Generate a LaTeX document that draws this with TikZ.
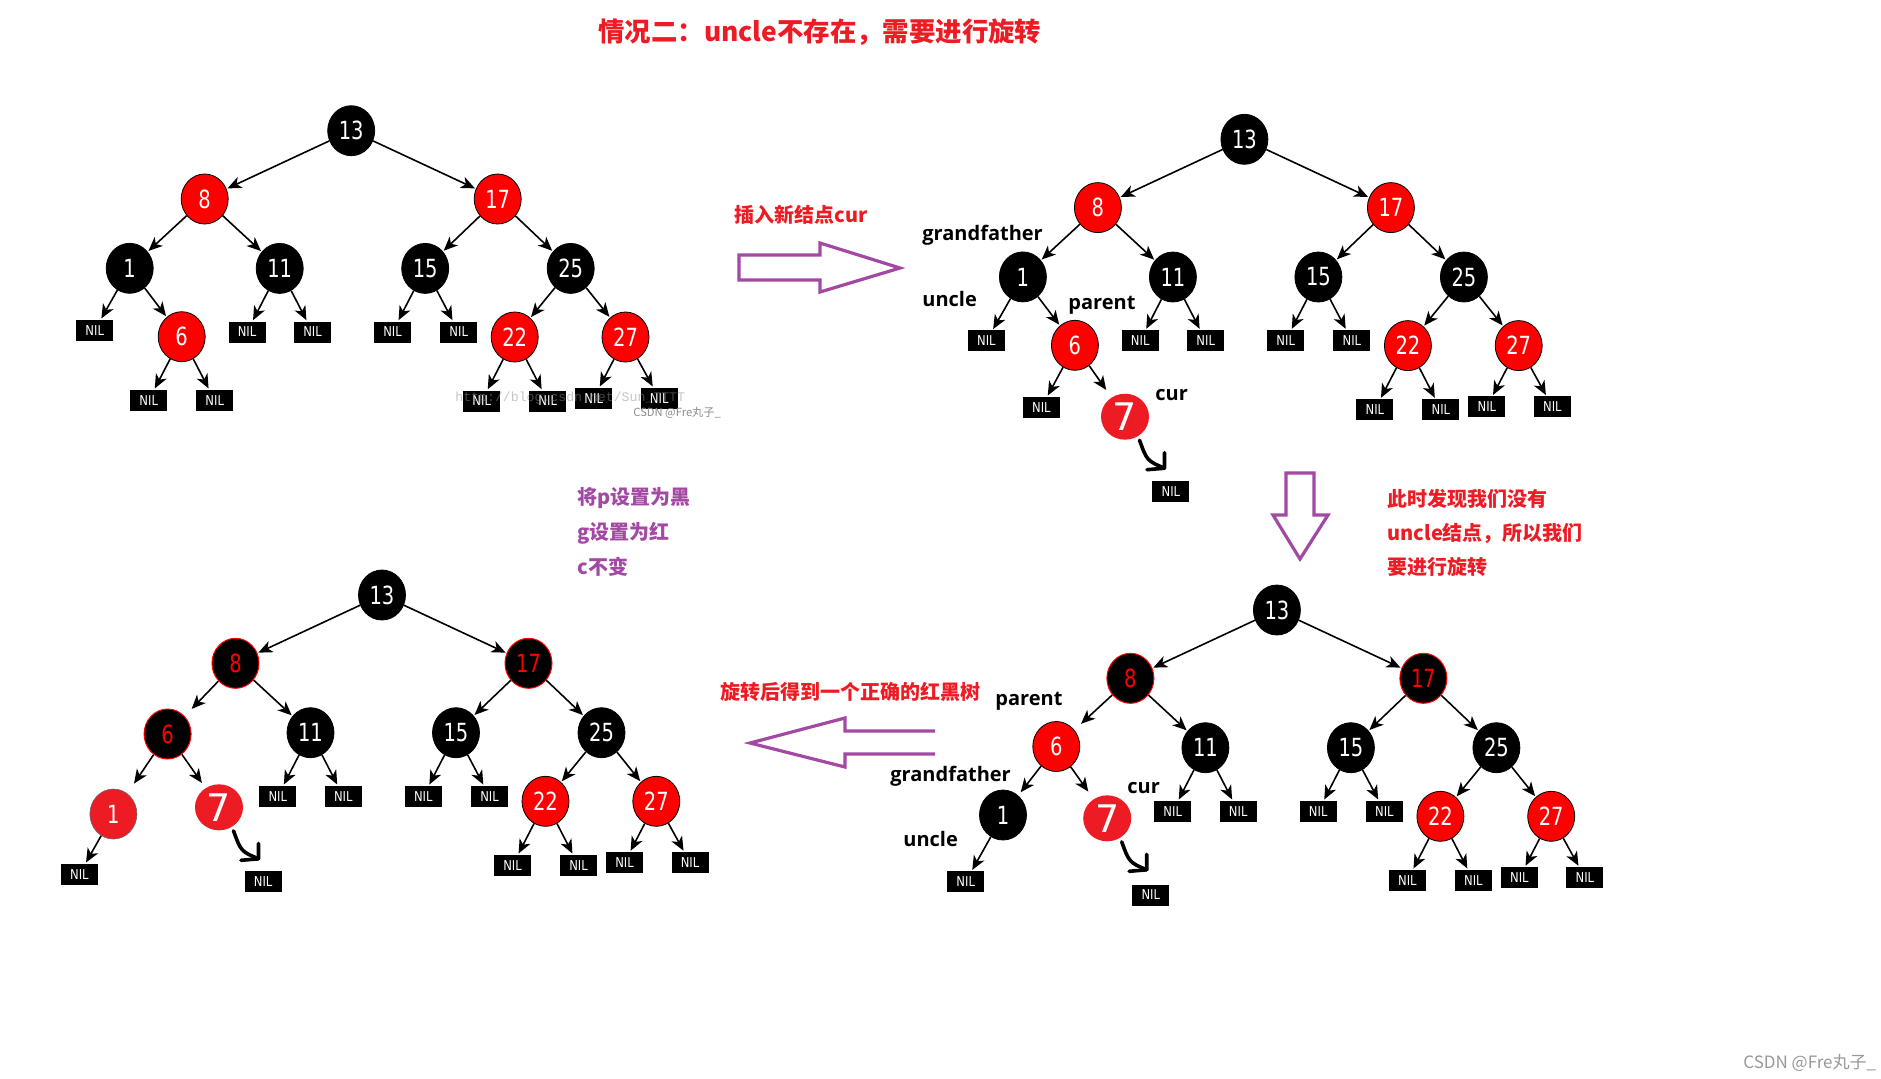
\documentclass[tikz,border=0pt]{standalone}
\usepackage{fontspec}
\usetikzlibrary{shapes.geometric,arrows.meta}
\newfontfamily\cjk{Noto Sans CJK SC}
\newfontfamily\lab{Open Sans}
\newfontfamily\numf{DejaVu Sans}[FakeStretch=0.78]
\newfontfamily\nilf{DejaVu Sans}[FakeStretch=0.85]
\newfontfamily\sevf{DejaVu Sans}
\newfontfamily\wmono{Liberation Mono}
\definecolor{pred}{RGB}{255,0,0}
\definecolor{hred}{RGB}{237,28,36}
\definecolor{tred}{RGB}{237,28,36}
\definecolor{purp}{RGB}{163,73,164}
\tikzset{
  bn/.style={ellipse, fill=black, draw=black, text=white, minimum width=23.5pt, minimum height=25pt, inner sep=0pt, font=\numf\fontsize{12.5}{12.5}\selectfont},
  rn/.style={bn, fill=pred, draw=black, line width=0.4pt},
  bnr/.style={bn, draw=pred, line width=0.5pt, text=pred},
  rnh/.style={bn, fill=hred, draw=black!60, line width=0.3pt},
  hn/.style={ellipse, fill=hred, draw=none, minimum width=24pt, minimum height=23pt, inner sep=0pt, text=white, font=\sevf\fontsize{19}{19}\selectfont},
  nil/.style={rectangle, fill=black, text=white, minimum width=18.5pt, minimum height=10.5pt, inner sep=0pt, font=\nilf\fontsize{6.8}{6.8}\selectfont},
  ed/.style={line width=0.8pt, -{Stealth[length=7pt,width=6pt,inset=2pt]}, shorten >=0.5pt},
  edx/.style={ed, shorten >=4.5pt},
  hand/.style={line width=1.8pt, line cap=round, line join=round},
  parr/.style={draw=purp, line width=1.6pt},
  lbl/.style={anchor=base west, inner sep=0pt, font=\lab\bfseries\fontsize{10}{10}\selectfont},
  ctxt/.style={anchor=west, inner sep=0pt, font=\cjk\bfseries\fontsize{10}{10}\selectfont},
}
\newcommand{\rbright}[1]{%
  \node[bn] (r) at (0,0) {13};
  \node[#1] (n8) at (-146.5,68.3) {8};
  \node[#1] (n17) at (146.5,68.3) {17};
  \node[bn] (n11) at (-71.5,137.7) {11};
  \node[bn] (n15) at (74,137.7) {15};
  \node[bn] (n25) at (219.5,137.7) {25};
  \node[rn] (n22) at (163.5,206.3) {22};
  \node[rn] (n27) at (274.3,206.3) {27};
  \node[nil] (a11) at (-104.2,201.3) {NIL};
  \node[nil] (b11) at (-38.7,201.3) {NIL};
  \node[nil] (a15) at (41.3,201.3) {NIL};
  \node[nil] (b15) at (107.5,201.3) {NIL};
  \node[nil] (a22) at (130.5,270.3) {NIL};
  \node[nil] (b22) at (196.5,270.3) {NIL};
  \node[nil] (a27) at (242.5,267.5) {NIL};
  \node[nil] (b27) at (308,267.5) {NIL};
  \draw[ed] (r) -- (n8);
  \draw[ed] (r) -- (n17);
  \draw[ed] (n8) -- (n11);
  \draw[ed] (n17) -- (n15);
  \draw[ed] (n17) -- (n25);
  \draw[ed] (n11) -- (a11);
  \draw[ed] (n11) -- (b11);
  \draw[ed] (n15) -- (a15);
  \draw[ed] (n15) -- (b15);
  \draw[ed] (n25) -- (n22);
  \draw[ed] (n25) -- (n27);
  \draw[ed] (n22) -- (a22);
  \draw[ed] (n22) -- (b22);
  \draw[ed] (n27) -- (a27);
  \draw[ed] (n27) -- (b27);
}
\newcommand{\handarrow}[2]{%
  \begin{scope}[shift={(#1,#2)}]
    \coordinate (hs) at (14.5,23.5);
    \coordinate (hc) at (39.5,51.5);
    \draw[hand] (hs) .. controls (22,44) .. (hc);
    \draw[hand] (39.5,36) -- (hc) -- (22,53);
  \end{scope}}
\begin{document}
\begin{tikzpicture}[x=0.5pt,y=-0.5pt]
\fill[white] (0,0) rectangle (1881,1078);
\useasboundingbox (0,0) rectangle (1881,1078);

% title
\node[ctxt, text=tred, font=\cjk\bfseries\fontsize{13.2}{13.2}\selectfont] (title) at (598,32) {情况二：uncle不存在，需要进行旋转};

% ---------- tree 1 (top left)
\begin{scope}[shift={(351.2,130.7)}, name prefix=A-]
  \rbright{rn}
  \node[bn] (n1) at (-221.5,137.6) {1};
  \node[nil] (nil1) at (-256.5,199.5) {NIL};
  \node[rn] (n6) at (-169.5,206) {6};
  \node[nil] (a6) at (-202.5,269.5) {NIL};
  \node[nil] (b6) at (-136.5,269.5) {NIL};
  \draw[ed] (n8) -- (n1);
  \draw[ed] (n1) -- (nil1);
  \draw[ed] (n1) -- (n6);
  \draw[ed] (n6) -- (a6);
  \draw[ed] (n6) -- (b6);
\end{scope}
\node[anchor=west, inner sep=0pt, text=black!45, opacity=0.5, font=\wmono\fontsize{6.6}{6.6}\selectfont] (wm1) at (455,398) {http://blog.csdn.net/Sun\_TTTT};
\node[anchor=west, inner sep=0pt, text=black!45, font=\cjk\fontsize{5.6}{5.6}\selectfont] (wm2) at (633,413) {CSDN @Fre丸子\_};

% ---------- tree 2 (top right)
\begin{scope}[shift={(1244.4,139.3)}, name prefix=B-]
  \rbright{rn}
  \node[bn] (n1) at (-221.5,137.6) {1};
  \node[nil] (nil1) at (-258,201.5) {NIL};
  \node[rn] (n6) at (-169.5,206) {6};
  \node[nil] (a6) at (-203,268) {NIL};
  \node[hn] (n7) at (-119.4,277.4) {7};
  \node[nil] (nil7) at (-73.5,352.4) {NIL};
  \draw[ed] (n8) -- (n1);
  \draw[ed] (n1) -- (nil1);
  \draw[ed] (n1) -- (n6);
  \draw[ed] (n6) -- (a6);
  \draw[edx] (n6) -- (n7);
  \handarrow{-119.4}{277.4}
\end{scope}
\node[lbl] (l1) at (922,240) {grandfather};
\node[lbl] (l2) at (922,306.5) {uncle};
\node[lbl] (l3) at (1068,309) {parent};
\node[lbl] (l4) at (1155,400) {cur};

% ---------- tree 3 (bottom right)
\begin{scope}[shift={(1276.9,610)}, name prefix=C-]
  \rbright{bnr}
  \node[rn] (n6) at (-220.6,136.5) {6};
  \node[bn] (n1) at (-273.9,205) {1};
  \node[hn] (n7) at (-169.7,208.3) {7};
  \node[nil] (nil1) at (-311.2,271.7) {NIL};
  \node[nil] (nil7) at (-126.1,285) {NIL};
  \draw[edx] (n8) -- (n6);
  \draw[ed, shorten >=2pt] (n6) -- (n1);
  \draw[edx] (n6) -- (n7);
  \draw[ed] (n1) -- (nil1);
  \handarrow{-169.7}{208.3}
\end{scope}
\node[lbl] (m1) at (995,705) {parent};
\node[lbl] (m2) at (890,781.5) {grandfather};
\node[lbl] (m3) at (903,846) {uncle};
\node[lbl] (m4) at (1127,793) {cur};

% ---------- tree 4 (bottom left)
\begin{scope}[shift={(382,595)}, name prefix=D-]
  \rbright{bnr}
  \node[bnr] (n6) at (-214.4,139) {6};
  \node[rnh] (n1) at (-268.6,219) {1};
  \node[hn] (n7) at (-163,212.3) {7};
  \node[nil] (nil1) at (-302.6,279.3) {NIL};
  \node[nil] (nil7) at (-118.9,286.7) {NIL};
  \draw[ed, shorten >=5pt] (n8) -- (n6);
  \draw[ed, shorten >=6pt] (n6) -- (n1);
  \draw[ed, shorten >=3pt] (n6) -- (n7);
  \draw[ed] (n1) -- (nil1);
  \handarrow{-163}{212.3}
\end{scope}

% ---------- notes
\node[ctxt, text=tred] (t1) at (734,215) {插入新结点cur};
\node[ctxt, text=purp] (p1) at (577,498) {将p设置为黑};
\node[ctxt, text=purp] (p2) at (577,533) {g设置为红};
\node[ctxt, text=purp] (p3) at (577,567) {c不变};
\node[ctxt, text=tred] (q1) at (1387,499) {此时发现我们没有};
\node[ctxt, text=tred] (q2) at (1387,533) {uncle结点，所以我们};
\node[ctxt, text=tred] (q3) at (1387,567) {要进行旋转};
\node[ctxt, text=tred] (t2) at (720,692) {旋转后得到一个正确的红黑树};

% ---------- hollow arrows
\draw[parr, line join=miter] (739,255) -- (820,255) -- (820,243) -- (900,268) -- (820,292) -- (820,280) -- (739,280) -- cycle;
\draw[parr, line join=miter] (1286,473) -- (1314,473) -- (1314,515) -- (1328,515) -- (1300,559) -- (1273,515) -- (1286,515) -- cycle;
\draw[parr, line join=miter] (935,731) -- (845,731) -- (845,718) -- (750,743) -- (845,767) -- (845,754) -- (935,754);

% watermark
\node[anchor=west, inner sep=0pt, text=black!40, font=\cjk\fontsize{8.5}{8.5}\selectfont] (wm3) at (1743,1063) {CSDN @Fre丸子\_};
\end{tikzpicture}
\end{document}
